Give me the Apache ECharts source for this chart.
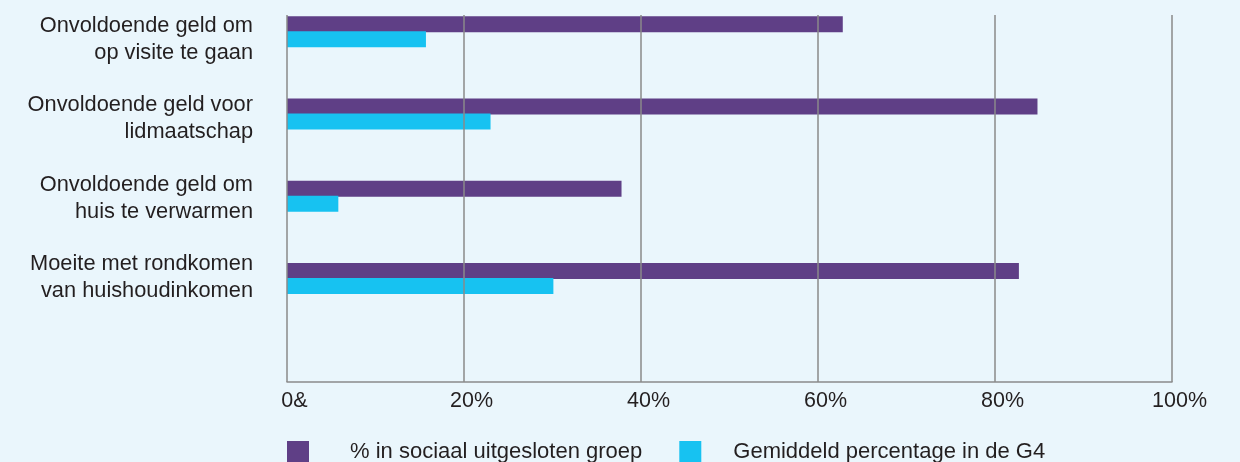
<!DOCTYPE html>
<html><head><meta charset="utf-8">
<script src="https://cdn.jsdelivr.net/npm/echarts@6/dist/echarts.min.js"></script>
<style>html,body{margin:0;padding:0;background:#eaf6fc;}#c{width:1240px;height:462px;}</style>
</head><body><div id="c"></div>
<script>
const categories = [
  'Onvoldoende geld om\nop visite te gaan',
  'Onvoldoende geld voor\nlidmaatschap',
  'Onvoldoende geld om\nhuis te verwarmen',
  'Moeite met rondkomen\nvan huishoudinkomen'
];
const seriesNames = ['% in sociaal uitgesloten groep', 'Gemiddeld percentage in de G4'];
const sociaalUitgesloten = [62.8, 84.8, 37.8, 82.7];
const gemiddeldG4 = [15.7, 23.0, 5.8, 30.1];
const tickLabels = ['0&', '20%', '40%', '60%', '80%', '100%'];

const FONT = '"Liberation Sans", Arial, sans-serif';
const TXT = '#231f20';
const chart = echarts.init(document.getElementById('c'));
chart.setOption({
  backgroundColor: '#eaf6fc',
  animation: false,
  textStyle: {fontFamily: FONT},
  legend: {
    left: 287, top: 441, padding: 0,
    itemWidth: 22, itemHeight: 22, itemGap: 37,
    icon: 'rect',
    textStyle: {fontSize: 22, color: TXT, fontFamily: FONT},
    data: [
      {name: seriesNames[0], textStyle: {padding: [0, 0, 0, 36]}},
      {name: seriesNames[1], textStyle: {padding: [0, 0, 0, 27]}}
    ]
  },
  grid: [
    {left: 287, right: 68, top: 15, height: 367},
    {left: 287, right: 68, top: -3, height: 320},
    {left: 287, right: 68, top: -9.5, height: 329.2, outerBoundsMode: 'none'}
  ],
  xAxis: [
    {
      gridIndex: 0, type: 'value', min: 0, max: 100, interval: 20, z: 10,
      axisLine: {show: true, lineStyle: {color: '#8a8a8a', width: 1.5}},
      axisTick: {show: false},
      splitLine: {show: true, lineStyle: {color: '#8a8a8a', width: 1.5}},
      axisLabel: {
        fontSize: 21.5, color: TXT, fontFamily: FONT, margin: 8, padding: [0, 0, 0, 15],
        formatter: (v) => tickLabels[Math.round(v / 20)]
      }
    },
    {gridIndex: 1, type: 'value', min: 0, max: 100, show: false},
    {gridIndex: 2, type: 'value', min: 0, max: 100, show: false}
  ],
  yAxis: [
    {
      gridIndex: 0, type: 'category', data: [''],
      axisLine: {show: false}, axisTick: {show: false}, axisLabel: {show: false}
    },
    {
      gridIndex: 1, type: 'category', inverse: true, data: categories,
      axisLine: {show: false}, axisTick: {show: false},
      axisLabel: {fontSize: 21.8, color: TXT, fontFamily: FONT, margin: 34, lineHeight: 27, align: 'right', padding: [4, 0, 0, 0]}
    },
    {
      gridIndex: 2, type: 'category', inverse: true, data: categories, show: false
    }
  ],
  series: [
    {
      name: seriesNames[0], type: 'bar', xAxisIndex: 2, yAxisIndex: 2,
      data: sociaalUitgesloten, barWidth: 16, barGap: '-6%',
      itemStyle: {color: '#5f3f86'}
    },
    {
      name: seriesNames[1], type: 'bar', xAxisIndex: 2, yAxisIndex: 2,
      data: gemiddeldG4, barWidth: 16, barGap: '-6%',
      itemStyle: {color: '#17c2f1'}
    }
  ]
});
</script></body></html>
